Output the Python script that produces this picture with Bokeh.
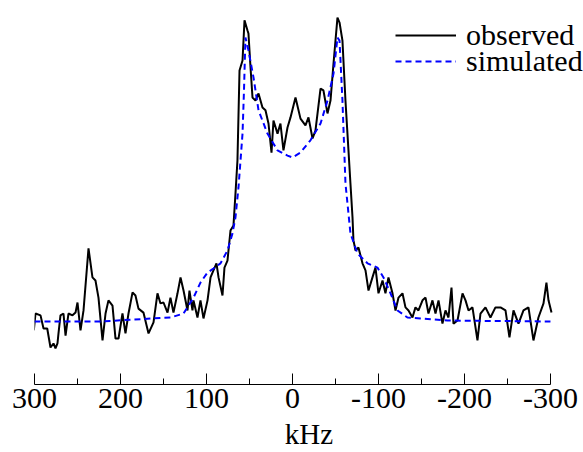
from bokeh.plotting import figure
from bokeh.models import Range1d, FixedTicker, Legend, LegendItem
from bokeh.embed import file_html
from bokeh.resources import INLINE

# Observed spectrum (kHz, intensity)
obs_khz = [300.8, 298.8, 293.0, 289.5, 285.2, 281.4, 277.9, 275.6, 273.3, 272.1,
           269.8, 266.3, 263.9, 260.5, 255.8, 252.3, 250.0, 246.5, 243.0, 237.2,
           232.6, 229.1, 225.6, 220.9, 217.4, 214.0, 209.3, 205.8, 202.3, 197.7,
           194.2, 190.7, 186.0, 182.6, 179.1, 173.3, 167.4, 161.6, 157.0, 153.5,
           150.0, 145.3, 141.9, 138.4, 133.7, 130.2, 126.7, 122.1, 119.8, 116.3,
           115.1, 110.5, 107.0, 103.5, 98.8, 95.3, 91.9, 88.4, 86.0, 81.4,
           79.1, 75.6, 72.1, 68.6, 66.3, 64.0, 61.6, 58.1, 55.8, 52.3,
           51.2, 48.8, 46.5, 43.0, 39.5, 34.9, 31.4, 27.9, 24.4, 22.1,
           17.4, 14.0, 10.5, 5.8, 2.3, -3.5, -9.3, -15.1, -18.6, -23.3,
           -26.7, -32.6, -36.0, -40.7, -44.2, -47.7, -52.3, -54.7, -58.1, -61.6,
           -65.1, -67.4, -69.8, -70.9, -73.3, -76.7, -81.4, -84.9, -88.4, -93.0,
           -96.5, -100.0, -104.7, -108.1, -111.6, -116.3, -119.8, -123.3, -127.9, -131.4,
           -134.9, -139.5, -143.0, -146.5, -151.2, -154.7, -158.1, -162.8, -166.3, -169.8,
           -174.4, -177.9, -181.4, -184.9, -187.2, -191.9, -197.7, -201.2, -204.7, -209.3,
           -215.1, -218.6, -224.4, -230.2, -236.0, -241.9, -247.7, -252.3, -257.0, -262.8,
           -268.6, -274.4, -280.2, -286.0, -291.9, -295.3, -297.7, -301.2]
obs_int = [-2.9, 2.6, 2.0, -2.3, -2.3, -8.5, -7.2, -8.8, -7.2, -3.9,
           2.0, 2.6, -4.6, 2.6, 2.0, 2.9, 6.2, -2.9, 3.6, 23.9,
           14.4, 13.4, 7.8, -6.2, 2.6, 6.9, 5.2, -5.6, -5.6, 2.6,
           -3.9, 2.6, 9.5, 8.5, 4.2, 2.9, -3.9, -0.3, 9.2, 5.9,
           6.2, 2.9, 7.8, 2.9, 9.2, 14.4, 10.1, 3.6, 10.1, 3.6,
           6.9, 1.3, 6.9, 1.0, 6.9, 14.4, 16.7, 19.0, 14.4, 8.5,
           17.6, 19.9, 29.7, 31.4, 41.8, 52.6, 82.0, 85.3, 98.4, 95.1,
           94.1, 83.0, 73.2, 72.2, 74.5, 69.9, 69.0, 64.7, 55.2, 65.7,
           61.4, 64.7, 55.9, 63.4, 66.7, 73.2, 66.3, 64.1, 66.7, 59.8,
           62.4, 76.1, 75.5, 68.0, 72.2, 84.3, 99.3, 97.7, 91.8, 72.2,
           55.9, 45.1, 34.0, 26.5, 23.2, 24.2, 19.0, 16.7, 10.1, 14.4,
           17.6, 9.2, 13.4, 9.2, 14.4, 9.2, 3.6, 7.8, 9.2, 4.6,
           3.6, 1.3, 4.6, 3.6, 6.9, 7.8, 2.6, 6.9, 2.6, 6.9,
           -0.7, 3.6, 1.3, 11.1, -0.7, 0.3, 9.2, 6.9, 3.6, 4.6,
           -6.2, 2.6, 4.6, 1.3, 4.6, 4.6, 3.6, -5.2, 3.6, -0.7,
           3.6, 4.6, -6.2, 1.3, 5.9, 12.7, 6.9, 2.9]

# Simulated spectrum (kHz, intensity)
sim_khz = [300.0, 223.3, 161.6, 141.9, 126.7, 115.1, 107.0, 98.8, 91.9, 83.7,
           75.6, 69.8, 66.3, 62.8, 58.1, 56.4, 54.7, 51.2, 45.3, 39.5,
           29.1, 17.4, 5.8, 0.0, -9.3, -20.9, -32.6, -40.7, -47.7, -52.3,
           -54.7, -58.1, -61.6, -67.4, -75.6, -87.2, -98.8, -105.8, -114.0, -122.1,
           -133.7, -148.8, -180.2, -300.0]
sim_int = [0.0, 0.0, 1.0, 1.3, 2.6, 7.8, 12.7, 16.0, 17.3, 19.0,
           23.2, 28.8, 34.0, 43.8, 61.4, 75.5, 92.8, 88.6, 79.7, 69.0,
           61.4, 55.9, 54.2, 53.6, 55.2, 59.2, 64.7, 72.2, 81.0, 92.8,
           91.8, 72.2, 45.1, 28.8, 22.2, 19.0, 17.6, 14.4, 9.2, 3.6,
           1.3, 1.0, 0.3, 0.0]

major_ticks = [300, 200, 100, 0, -100, -200, -300]
minor_ticks = [250, 150, 50, -50, -150, -250]
tick_labels = ["300", "200", "100", "0", "-100", "-200", "-300"]
series_names = ["observed", "simulated"]

FONT = "'Liberation Serif', 'Times New Roman', serif"

p = figure(width=583, height=452, x_range=Range1d(300, -338.4), y_range=Range1d(-20.6, 104.9),
           output_backend="svg", toolbar_location=None, y_axis_location=None,
           min_border_left=34, min_border_right=0, min_border_top=0, min_border_bottom=68)
p.grid.visible = False
p.outline_line_color = None

r_obs = p.line(obs_khz, obs_int, line_color="black", line_width=2)
r_sim = p.line(sim_khz, sim_int, line_color="#0000ff", line_width=2, line_dash="6 4")

ax = p.xaxis[0]
ax.bounds = (-300, 300)
ax.ticker = FixedTicker(ticks=major_ticks, minor_ticks=minor_ticks)
ax.major_label_overrides = {t: l for t, l in zip(major_ticks, tick_labels)}
ax.major_tick_in = 11
ax.major_tick_out = 0
ax.minor_tick_in = 6
ax.minor_tick_out = 0
ax.axis_line_color = "black"
ax.major_tick_line_color = "black"
ax.minor_tick_line_color = "black"
ax.major_label_text_font = FONT
ax.major_label_text_font_size = "30px"
ax.major_label_text_color = "black"
ax.major_label_standoff = 4
ax.axis_label = "kHz"
ax.axis_label_text_font = FONT
ax.axis_label_text_font_size = "29px"
ax.axis_label_text_font_style = "normal"
ax.axis_label_text_color = "black"
ax.axis_label_standoff = 7


def make_legend(label, renderer, loc):
    lg = Legend(items=[LegendItem(label=label, renderers=[renderer])], location=loc)
    lg.padding = 0
    lg.margin = 0
    lg.spacing = 0
    lg.glyph_width = 61
    lg.glyph_height = 40
    lg.label_height = 40
    lg.label_standoff = 10
    lg.label_text_font = FONT
    lg.label_text_font_size = "30px"
    lg.label_text_color = "black"
    lg.border_line_color = None
    lg.background_fill_alpha = 0
    return lg


p.add_layout(make_legend(series_names[0], r_obs, (361, 329)))
p.add_layout(make_legend(series_names[1], r_sim, (361, 303)))

open("out.html", "w").write(file_html(p, INLINE))
